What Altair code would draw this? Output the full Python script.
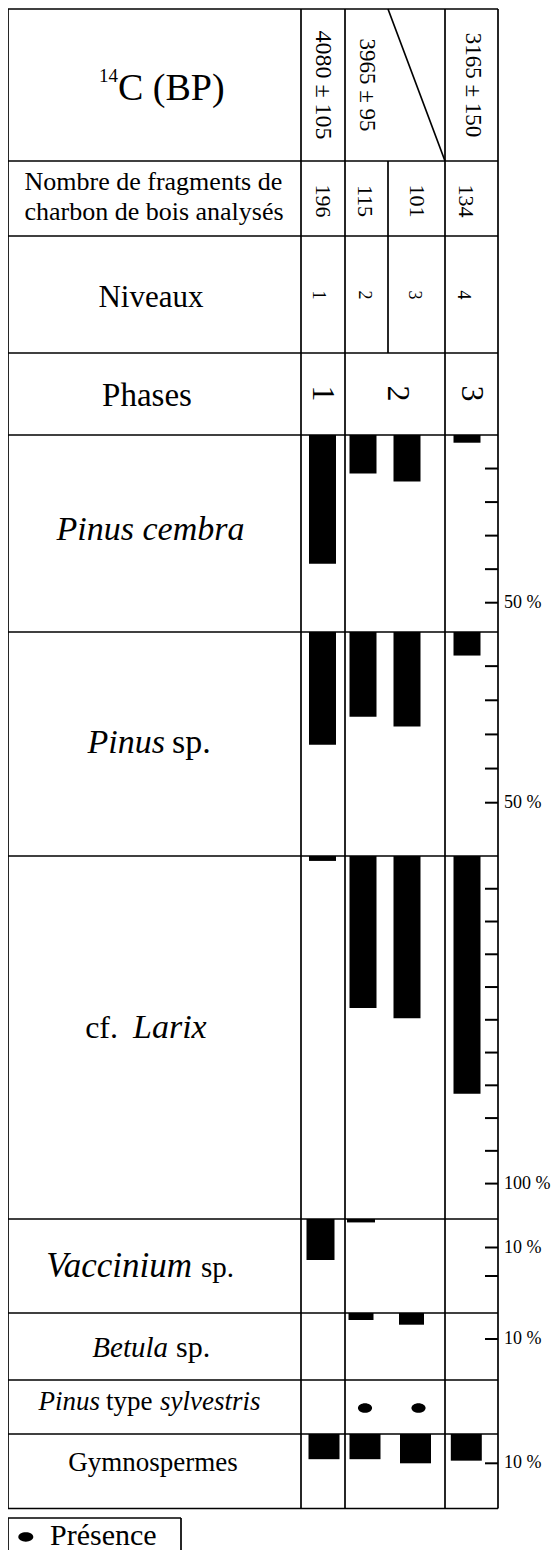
import altair as alt
import pandas as pd

FONT = "Liberation Serif, Times New Roman, Times, serif"

# ---------------- data ----------------
LEVELS = [1, 2, 3, 4]
DATES_14C = ["4080 ± 105", "3965 ± 95", "", "3165 ± 150"]
FRAGMENTS = [196, 115, 101, 134]
PHASES = [1, 2, 3]

PINUS_CEMBRA = [38.4, 11.5, 13.9, 2.3]
PINUS_SP = [33.0, 24.8, 27.7, 6.9]
CF_LARIX = [1.5, 46.4, 49.5, 72.6]
VACCINIUM = [14.4, 1.2, 0.0, 0.0]
BETULA = [0.0, 2.7, 4.5, 0.0]
SYLVESTRIS_PRESENT = [0, 1, 1, 0]
GYMNOSPERMES = [8.6, 8.6, 10.0, 9.1]

# ---------------- layout (page pixels) ----------------
W, H = 543, 1542
OFF = 8
XS = alt.Scale(domain=[OFF, OFF + W], range=[0, W], nice=False, zero=False)
YC = alt.Scale(domain=[OFF, OFF + H], range=[0, H], nice=False, zero=False)

X_L, X_LAB, X_C1, X_C2, X_C3, X_R = 8, 301, 345, 388, 445, 498
ROW_Y = [9, 161, 236, 353, 435, 632, 856, 1219, 1313, 1380, 1434, 1508.5]
Y_TOP, Y_BOT = ROW_Y[0], ROW_Y[-1]

DATE_X = [323.3, 366.7, None, 473.3]
FRAG_X = [322.6, 364.5, 417, 466]
NIV_X = [318, 364, 413.5, 463]
PHASE_X = [322.5, 398, 471.7]
BAR_X = [322.5, 363, 407, 467]
DOT_X = [322.5, 365, 418.5, 467]

# ---------------- table lines ----------------
segs = []
for y in ROW_Y:
    segs.append((X_L, y, X_R, y))
for x in [X_L, X_LAB, X_C1, X_C3, X_R]:
    segs.append((x, Y_TOP, x, Y_BOT))
segs.append((X_C2, ROW_Y[1], X_C2, ROW_Y[3]))
segs.append((X_C2, ROW_Y[0], X_C3, ROW_Y[1]))  # diagonal
segs += [(8, 1518, 181, 1518), (8, 1518, 8, 1565), (181, 1518, 181, 1565)]
lines_df = pd.DataFrame(segs, columns=["xa", "ya", "xb", "yb"])

lines = alt.Chart(lines_df).mark_rule(color="black", strokeWidth=1.7).encode(
    x=alt.X("xa:Q", scale=XS, axis=None),
    y=alt.Y("ya:Q", scale=YC, axis=None),
    x2="xb:Q",
    y2="yb:Q",
)


def text_layer(rows, **kw):
    df = pd.DataFrame(rows, columns=["t", "x", "y", "s"])
    return alt.Chart(df).mark_text(font=FONT, color="black", **kw).encode(
        x=alt.X("x:Q", scale=XS, axis=None),
        y=alt.Y("y:Q", scale=YC, axis=None),
        text="t:N",
        size=alt.Size("s:Q", scale=None, legend=None),
    )


reg_center = text_layer([
    ("Nombre de fragments de", 153.4, 190, 26),
    ("charbon de bois analysés", 154, 220, 26),
    ("Niveaux", 151, 306.7, 31),
    ("Phases", 147, 406, 33),
    ("Gymnospermes", 153, 1470.7, 27),
], align="center", baseline="alphabetic")
reg_left = text_layer([
    ("C (BP)", 118, 100, 38),
    ("sp.", 172, 753, 34),
    ("sp.", 201, 1276.7, 29),
    ("sp.", 176, 1356.7, 30),
    ("type", 106, 1410, 27),
    ("Présence", 50, 1545, 30),
], align="left", baseline="alphabetic")
reg_right = text_layer([
    ("cf.", 118, 1038, 32),
    ("14", 118, 81.5, 19),
], align="right", baseline="alphabetic")
ita_center = text_layer([
    ("Pinus cembra", 150.5, 540, 34),
], align="center", baseline="alphabetic", fontStyle="italic")
ita_right = text_layer([
    ("Pinus", 165, 753, 34),
    ("Vaccinium", 192, 1276.7, 35),
    ("Betula", 168, 1356.7, 29),
    ("Pinus", 100, 1410, 27),
], align="right", baseline="alphabetic", fontStyle="italic")
ita_left = text_layer([
    ("Larix", 133, 1038, 34),
    ("sylvestris", 160, 1410, 27),
], align="left", baseline="alphabetic", fontStyle="italic")

rot_rows = []
for i, d in enumerate(DATES_14C):
    if d:
        rot_rows.append((d, DATE_X[i], 85, 24 if i == 0 else 23))
for i, n in enumerate(FRAGMENTS):
    rot_rows.append((str(n), FRAG_X[i], 201, 22))
for i, lv in enumerate(LEVELS):
    rot_rows.append((str(lv), NIV_X[i], 295, 18))
for i, p in enumerate(PHASES):
    rot_rows.append((str(p), PHASE_X[i], 393.5, 32))
rotated = text_layer(rot_rows, align="center", baseline="middle", angle=90)

ELLIPSE = "M-1,0A1,0.68,0,1,0,1,0A1,0.68,0,1,0,-1,0Z"
dots_df = pd.DataFrame({
    "x": [DOT_X[i] for i, v in enumerate(SYLVESTRIS_PRESENT) if v],
    "y": [1408] * sum(SYLVESTRIS_PRESENT),
})
dots = alt.Chart(dots_df).mark_point(
    shape=ELLIPSE, filled=True, color="black", opacity=1, size=200, strokeWidth=0
).encode(x=alt.X("x:Q", scale=XS, axis=None), y=alt.Y("y:Q", scale=YC, axis=None))

legend_dot = alt.Chart(pd.DataFrame({"x": [25.8], "y": [1537]})).mark_point(
    shape="M-1,0A1,0.62,0,1,0,1,0A1,0.62,0,1,0,-1,0Z", filled=True, color="black",
    opacity=1, size=225, strokeWidth=0
).encode(x=alt.X("x:Q", scale=XS, axis=None), y=alt.Y("y:Q", scale=YC, axis=None))

canvas = alt.layer(lines, reg_center, reg_left, reg_right, ita_center, ita_right,
                   ita_left, rotated, dots, legend_dot)

# ---------------- percentage sections ----------------
SECTIONS = [
    dict(values=PINUS_CEMBRA, top=435, k=3.354, ticks=[10, 20, 30, 40, 50], label=50, w=27, xc=BAR_X),
    dict(values=PINUS_SP, top=632, k=3.414, ticks=[10, 20, 30, 40, 50], label=50, w=27, xc=BAR_X),
    dict(values=CF_LARIX, top=856, k=3.276, ticks=list(range(10, 101, 10)), label=100, w=27, xc=BAR_X),
    dict(values=VACCINIUM, top=1219, k=2.85, ticks=[10, 20], label=10, w=28, xc=[320.5, 361, 407, 467]),
    dict(values=BETULA, top=1313, k=2.6, ticks=[10], label=10, w=25, xc=[322.5, 361, 411.5, 467]),
    dict(values=GYMNOSPERMES, top=1434, k=2.93, ticks=[10], label=10, w=31, xc=[324, 365, 415.5, 466.3]),
]

section_layers = []
for sec in SECTIONS:
    ys = alt.Scale(domain=[0, 100], range=[sec["top"] - OFF, sec["top"] - OFF + 100 * sec["k"]],
                   nice=False, zero=False)
    bdf = pd.DataFrame({"level": LEVELS, "pct": sec["values"], "xc": sec["xc"]})
    bdf = bdf[bdf["pct"] > 0].copy()
    bdf["x0"] = bdf["xc"] - sec["w"] / 2
    bdf["x1"] = bdf["xc"] + sec["w"] / 2
    bdf["zero"] = 0.0
    bars = alt.Chart(bdf).mark_rect(color="black").encode(
        x=alt.X("x0:Q", scale=XS, axis=None), x2="x1:Q",
        y=alt.Y("zero:Q", scale=ys, axis=None), y2="pct:Q",
    )
    tdf = pd.DataFrame({"pct": sec["ticks"], "xa": 485.0, "xb": float(X_R)})
    ticks = alt.Chart(tdf).mark_rule(color="black", strokeWidth=2).encode(
        x=alt.X("xa:Q", scale=XS, axis=None), x2="xb:Q",
        y=alt.Y("pct:Q", scale=ys, axis=None),
    )
    ldf = pd.DataFrame({"pct": [sec["label"]], "t": [f"{sec['label']} %"], "x": [504.0]})
    lab = alt.Chart(ldf).mark_text(font=FONT, fontSize=18, align="left", baseline="middle",
                                   color="black").encode(
        x=alt.X("x:Q", scale=XS, axis=None),
        y=alt.Y("pct:Q", scale=ys, axis=None),
        text="t:N",
    )
    section_layers.append(alt.layer(bars, ticks, lab))

chart = alt.layer(canvas, *section_layers).resolve_scale(y="independent").properties(
    width=W, height=H, padding=0, autosize=alt.AutoSizeParams(type="none")
).configure_view(stroke=None)

chart.save("out.html", embed_options={"renderer": "svg", "actions": False})
